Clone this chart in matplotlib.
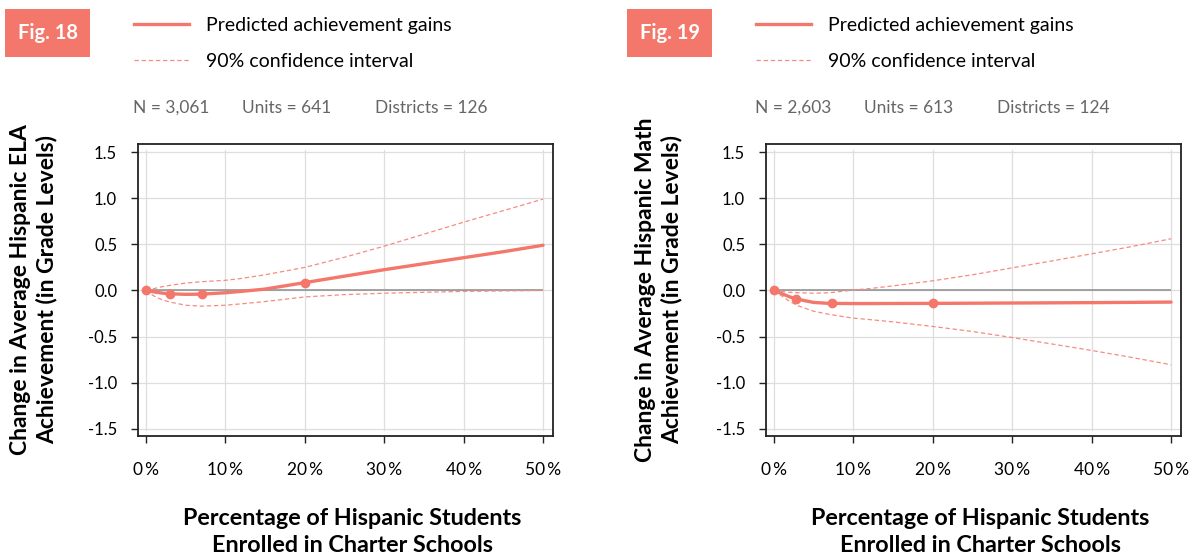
import matplotlib
matplotlib.use("Agg")
import matplotlib.pyplot as plt
from matplotlib.patches import Rectangle
from matplotlib.lines import Line2D

plt.rcParams['font.family'] = ['Lato', 'DejaVu Sans']

# percent of Hispanic students enrolled in charter schools
pct = [0, 1, 2, 3, 5, 7, 10, 12, 15, 20, 25, 30, 35, 40, 45, 50]

# Fig. 18 - ELA
ela_pred = [0, -0.015, -0.028, -0.036, -0.042, -0.040, -0.025, -0.010, 0.015,
            0.085, 0.155, 0.225, 0.29, 0.355, 0.42, 0.49]
ela_hi = [0, 0.02, 0.04, 0.055, 0.08, 0.095, 0.11, 0.13, 0.17,
          0.25, 0.36, 0.48, 0.61, 0.74, 0.865, 0.99]
ela_lo = [0, -0.06, -0.10, -0.125, -0.16, -0.17, -0.16, -0.145, -0.12,
          -0.07, -0.045, -0.03, -0.02, -0.01, -0.005, 0.0]
ela_marks_x = [0, 3, 7, 20]
ela_marks_y = [0, -0.036, -0.040, 0.085]

# Fig. 19 - Math
math_pred = [0, -0.035, -0.07, -0.095, -0.13, -0.14, -0.142, -0.142, -0.141,
             -0.14, -0.138, -0.136, -0.134, -0.132, -0.129, -0.126]
math_hi = [0, -0.012, -0.02, -0.025, -0.03, -0.025, 0.005, 0.02, 0.05,
           0.105, 0.17, 0.245, 0.32, 0.397, 0.475, 0.56]
math_lo = [0, -0.06, -0.12, -0.165, -0.225, -0.26, -0.30, -0.315, -0.34,
           -0.39, -0.445, -0.51, -0.58, -0.65, -0.725, -0.805]
math_marks_x = [0, 2.8, 7.3, 20]
math_marks_y = [0, -0.094, -0.14, -0.14]

yticks = [-1.5, -1.0, -0.5, 0.0, 0.5, 1.0, 1.5]
xticks = [0, 10, 20, 30, 40, 50]
xlabels = ['0\u2009%', '10\u2009%', '20\u2009%', '30\u2009%', '40\u2009%', '50\u2009%']

panels = [
    dict(fig='Fig. 18', pred=ela_pred, hi=ela_hi, lo=ela_lo, mx=ela_marks_x, my=ela_marks_y,
         ylabel='Change in Average Hispanic ELA\nAchievement (in Grade Levels)',
         stats=['N = 3,061', 'Units = 641', 'Districts = 126']),
    dict(fig='Fig. 19', pred=math_pred, hi=math_hi, lo=math_lo, mx=math_marks_x, my=math_marks_y,
         ylabel='Change in Average Hispanic Math\nAchievement (in Grade Levels)',
         stats=['N = 2,603', 'Units = 613', 'Districts = 124']),
]

W, H = 1204, 559
RED = '#F4776C'
CI = '#F58C82'

fig = plt.figure(figsize=(W / 100, H / 100), dpi=100)

# pixel geometry for each panel
lefts = [138, 766]
offs = [0, 622]
ylab_x = [34, 659]
xlab_x = [352, 980]

for p, x0, dx, yx, xx in zip(panels, lefts, offs, ylab_x, xlab_x):
    ax = fig.add_axes([x0 / W, 1 - 436 / H, 415 / W, 292 / H])
    ax.set_xlim(-1.0, 51.25)
    ax.set_ylim(-1.577, 1.587)

    ax.set_xticks(xticks)
    ax.set_xticklabels(xlabels)
    ax.set_yticks(yticks)
    ax.set_yticklabels(['%.1f' % v for v in yticks])
    ax.tick_params(axis='x', length=5, width=1, color='#222', pad=14, labelsize=12.5)
    ax.tick_params(axis='y', length=5, width=1, color='#222', pad=10, labelsize=12)
    for s in ax.spines.values():
        s.set_color('#222')
        s.set_linewidth(1.3)

    # inner grid box (Stata style)
    for v in yticks:
        ax.axhline(v, color='#dedede', lw=0.9, zorder=0)
    for v in xticks:
        ax.axvline(v, ymin=0.02, ymax=0.978, color='#dedede', lw=0.9, zorder=0)
    ax.hlines(0, min(pct), max(pct), color='#8c8c8c', lw=1.1, zorder=1)

    ax.plot(pct, p['hi'], color=CI, lw=0.9, dashes=(3.5, 2.2), zorder=2)
    ax.plot(pct, p['lo'], color=CI, lw=0.9, dashes=(3.5, 2.2), zorder=2)
    ax.plot(pct, p['pred'], color=RED, lw=2.4, zorder=3, solid_capstyle='round')
    ax.plot(p['mx'], p['my'], 'o', color=RED, ms=6, zorder=4)

    # header box
    fig.add_artist(Rectangle(((5 + dx) / W, 1 - 57 / H), 85 / W, 48 / H,
                             transform=fig.transFigure, color='#F4776C', lw=0))
    fig.text((47.5 + dx) / W, 1 - 33 / H, p['fig'], color='white', fontsize=14.5,
             fontweight='bold', ha='center', va='center')

    # legend
    h1 = Line2D([], [], color=RED, lw=2.4)
    h2 = Line2D([], [], color=CI, lw=0.9, dashes=(3.5, 2.2))
    fig.legend([h1, h2], ['Predicted achievement gains', '90% confidence interval'],
               loc='center left', bbox_to_anchor=((134 + dx) / W, 1 - 43.5 / H),
               bbox_transform=fig.transFigure, frameon=False, fontsize=14,
               handlelength=2.83, handletextpad=0.85, labelspacing=0.95,
               borderpad=0, borderaxespad=0)

    # stats line
    for s, sx in zip(p['stats'], [133, 242, 375]):
        fig.text((sx + dx) / W, 1 - 108 / H, s, color='#666666', fontsize=12.5,
                 ha='left', va='center')

    fig.text(yx / W, 1 - 290 / H, p['ylabel'], rotation=90, fontsize=16.5,
             fontweight='bold', ha='center', va='center', multialignment='center',
             linespacing=1.25)
    fig.text(xx / W, 1 - 532 / H,
             'Percentage of Hispanic Students\nEnrolled in Charter Schools',
             fontsize=16.8, fontweight='bold', ha='center', va='center',
             multialignment='center', linespacing=1.3)

fig.savefig('out.png', dpi=100)
